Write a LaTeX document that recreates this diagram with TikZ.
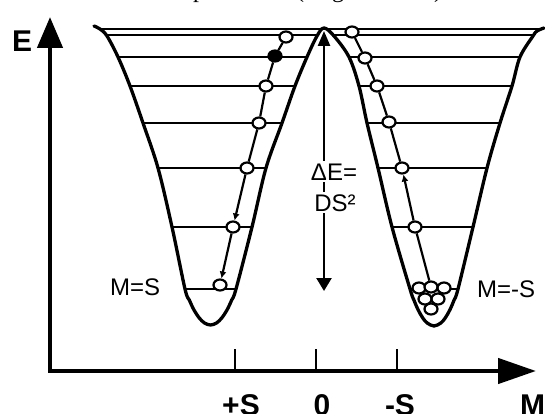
\documentclass[tikz,border=0pt]{standalone}
\usepackage{fontspec}
\setmainfont{Liberation Serif}
\setsansfont{Liberation Sans}
\usetikzlibrary{arrows.meta,shapes.geometric}
\begin{document}
\begin{tikzpicture}[x=1pt,y=-1pt,
  wall/.style={line width=3.3pt,line join=round,line cap=round},
  lvl/.style={line width=2.6pt},
  spin/.style={ellipse,draw,line width=2.2pt,fill=white,minimum width=13pt,minimum height=11pt,inner sep=0pt},
  spinfull/.style={spin,fill=black},
  spinpath/.style={line width=2.2pt},
  spinarrow/.style={spinpath,-{Latex[length=7pt,width=7pt]}},
  axis/.style={line width=4.5pt,line join=miter},
  tick/.style={line width=1.5pt},
  big/.style={font=\fontsize{30}{30}\selectfont\sffamily\bfseries,inner sep=0pt},
  hand/.style={font=\fontsize{24}{24}\selectfont\sffamily,inner sep=0pt},
  frag/.style={font=\fontsize{24}{24}\selectfont\rmfamily,inner sep=0pt,anchor=base}]
\useasboundingbox (0,0) rectangle (545,414);

% fragments of a caption cut off at the top
\node[frag] (f1) at (199,-2) {p};
\node[frag] (f2) at (300,-2) {(};
\node[frag] (f3) at (338,-2) {g};
\node[frag] (f4) at (438,-2) {)};

% axes
\coordinate (Etip) at (50,17);
\coordinate (O) at (50,371);
\coordinate (Mtip) at (536,371);
\draw[axis,{Triangle[length=31pt,width=25pt]}-{Triangle[length=38pt,width=25pt]}] (Etip) -- (O) -- (Mtip);
\foreach \x/\n in {235/tp,316/t0,397/tm}{
  \coordinate (\n a) at (\x,349);
  \coordinate (\n b) at (\x,371);
  \draw[tick] (\n a) -- (\n b);
}
\node[big,anchor=base west] (lE) at (12,52) {E};
\node[big,anchor=base] (lp) at (241,415) {+S};
\node[big,anchor=base] (l0) at (322,415) {0};
\node[big,anchor=base] (lm) at (400,415) {-S};
\node[big,anchor=base west] (lM) at (520,415) {M};

% energy levels
\foreach \y/\xa/\xb/\xc/\xd in {29/100/321/326/540, 35/107/316/334/533, 57/118/307/349/520, 86/130/295/359/512, 123/143/282/367/500, 168/158/266/378/487, 227/172/252/392/473, 289/185/236/410/458}{
  \draw[lvl] (\xa,\y) -- (\xb,\y);
  \draw[lvl] (\xc,\y) -- (\xd,\y);
}

% double well
\draw[wall] plot[smooth,tension=0.55] coordinates {(94,26) (100,29) (107,36) (118,57) (130,86) (143,123) (158,168) (172,227) (185,289) (189.3,300) (194,310) (199.3,318) (204.5,323) (210.5,325) (216.5,323) (221.7,318) (227,310) (231.7,300) (236,289) (252,227) (266,168) (282,123) (295,86) (307,57) (317,36) (324,28) (334,36) (349,57) (359,86) (367,123) (378,168) (392,227) (410,289) (413.9,300) (418.2,310) (422.8,318) (427.2,323) (434,326) (440.8,323) (445.2,318) (449.8,310) (454.1,300) (458,289) (473,227) (487,168) (500,123) (512,86) (520,57) (533,36) (537,31) (544,28)};

% barrier height arrow
\coordinate (btop) at (324,31);
\coordinate (bbot) at (324,291);
\draw[line width=2.4pt,{Triangle[length=15pt,width=12pt]}-{Triangle[length=13pt,width=15pt]}] (btop) -- (bbot);
\node[hand,fill=white,inner sep=2pt,anchor=base] (dE) at (334,180) {ΔE=};
\node[hand,fill=white,inner sep=2pt,anchor=base] (DS) at (335,211) {DS²};

% well labels
\node[hand,anchor=base west] (mS) at (110,295) {M=S};
\node[hand,anchor=base west] (mmS) at (477,297) {M=-S};

% spin path, left well
\node[spin] (a1) at (286,37) {};
\node[spinfull] (a2) at (275,56) {};
\node[spin] (a3) at (266,86) {};
\node[spin] (a4) at (259,123) {};
\node[spin] (a5) at (247,168) {};
\node[spin] (a6) at (233,227) {};
\node[spin] (a7) at (220,285) {};
\draw[spinpath] (a1) -- (a2) -- (a3) -- (a4) -- (a5);
\draw[spinarrow] (a5) -- (a6);
\draw[spinarrow] (a6) -- (a7);

% spin path, right well
\node[spin] (b1) at (352,32) {};
\node[spin] (b2) at (365,58) {};
\node[spin] (b3) at (377,86) {};
\node[spin] (b4) at (389,122) {};
\node[spin] (b5) at (402,168) {};
\node[spin] (b6) at (415,227) {};
\node[spin] (c1) at (419,288) {};
\node[spin] (c2) at (431,287) {};
\node[spin] (c3) at (444,288) {};
\node[spin] (c4) at (425,299) {};
\node[spin] (c5) at (438,299) {};
\node[spin] (c6) at (431,309) {};
\draw[spinpath] (b1) -- (b2) -- (b3) -- (b4) -- (b5);
\draw[spinarrow] (b6) -- (b5);
\draw[spinpath] (b6) -- (c2);
\end{tikzpicture}
\end{document}
